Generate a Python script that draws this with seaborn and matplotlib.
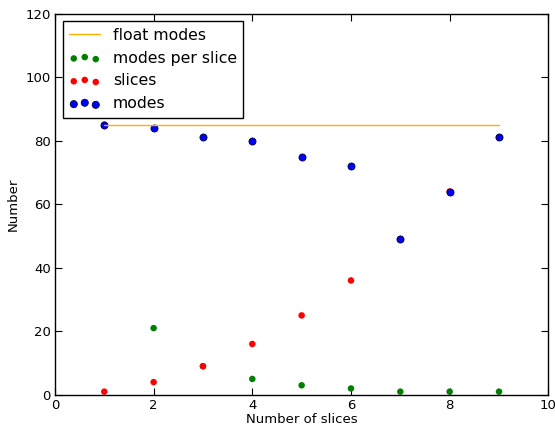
import numpy as np
import pandas as pd
import seaborn as sns
import matplotlib
matplotlib.use("Agg")
import matplotlib.pyplot as plt

# данные
n_slices = [1, 2, 3, 4, 5, 6, 7, 8, 9]
modes = [85, 84, 81, 80, 75, 72, 49, 64, 81]
slices = [1, 4, 9, 16, 25, 36, 49, 64, 81]
modes_per_slice = [85, 21, 9, 5, 3, 2, 1, 1, 1]
float_modes = [85, 85]
float_x = [1, 9]

sns.set_style("ticks", {"text.color": "black", "axes.labelcolor": "black",
                        "xtick.color": "black", "ytick.color": "black"})
plt.rcParams["font.family"] = ["DejaVu Sans"]

df = pd.DataFrame({"n": n_slices, "modes": modes, "slices": slices,
                   "mps": modes_per_slice})

fig = plt.figure(figsize=(5.55, 4.25), dpi=100)
ax = fig.add_axes([0.099, 0.071, 0.889, 0.897])

sns.lineplot(x=float_x, y=float_modes, color="#FFB000", lw=1,
             label="float modes", ax=ax)
sns.scatterplot(x="n", y="mps", data=df, color="green", s=22,
                edgecolor="none", label="modes per slice", ax=ax)
sns.scatterplot(x="n", y="slices", data=df, color="red", s=22,
                edgecolor="none", label="slices", ax=ax)
sns.scatterplot(x="n", y="modes", data=df, color="blue", s=26,
                edgecolor="#000033", linewidth=0.6, label="modes", ax=ax)

ax.set_xlim(0, 10)
ax.set_ylim(0, 120)
ax.set_xticks(range(0, 11, 2))
ax.set_yticks(range(0, 121, 20))
ax.set_xlabel("Number of slices", fontsize=9.5, labelpad=1)
ax.set_ylabel("Number", fontsize=9.5, labelpad=4)
ax.tick_params(direction="in", length=5, labelsize=9.5, pad=3,
               top=True, right=True, colors="black")
for sp in ax.spines.values():
    sp.set_linewidth(1)
    sp.set_color("black")

leg = ax.legend(loc="upper left", fontsize=11.3, scatterpoints=3,
                scatteryoffsets=[0.375, 0.5, 0.3125], fancybox=False,
                edgecolor="black", framealpha=1, borderaxespad=0.5,
                handlelength=2.0, labelspacing=0.5)
for t in leg.get_texts():
    t.set_color("black")

fig.savefig("out.png", dpi=100)
